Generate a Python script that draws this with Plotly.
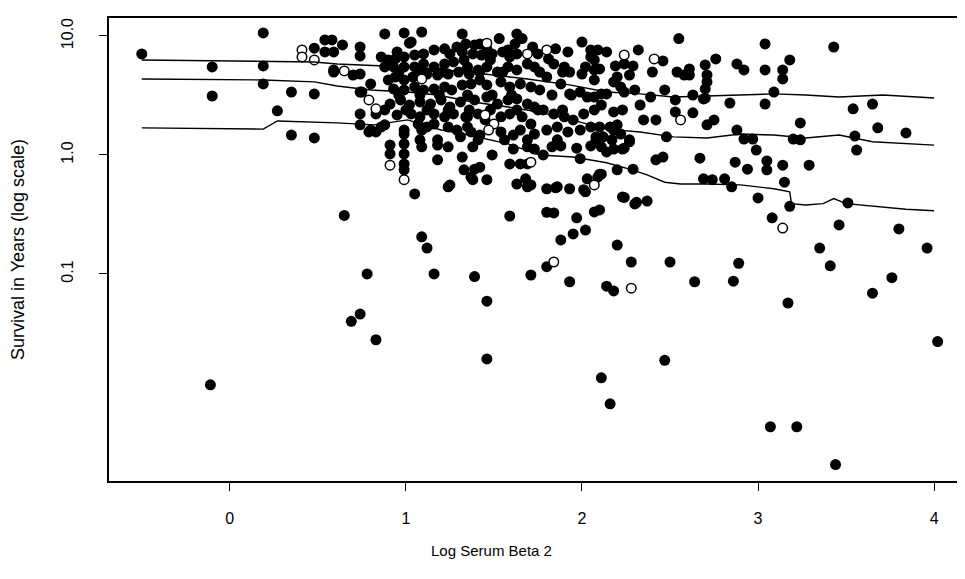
import plotly.graph_objects as go

# Log serum beta 2 (x) and survival in years (y), filled = died, open = censored
dead_x = [
    -0.50, -0.10, -0.10, 0.19, 0.19, 0.19, 0.35, 0.48, 0.27, 0.35, 0.48, 0.48, 0.54, 0.54, 0.59,
    0.58, 0.64, 0.59, 0.59, 0.74, 0.74, 0.74, 0.74, 0.74, 0.83, 0.79, 0.83, 0.88,
    0.88, 0.99, 1.09, 1.03, 1.32,
    0.91, 0.91, 0.99, 0.99, 0.99, 0.99, 0.99,
    1.05, 1.09, 1.09, 1.16, 1.18, 1.24, 1.32, 1.33, 1.37, 1.42, 1.46, 1.49,
    1.18, 1.25, 1.38, 1.39,
    0.65, 1.09, 1.12,
    1.59, 1.59, 1.65, 1.69, 1.63, 1.69, 1.80, 1.86, 1.93, 2.03, 2.01, 2.10,
    1.80, 1.84, 1.97, 2.07, 2.10, 1.95, 2.02, 1.88, 2.20, 2.23, 2.30,
    2.00, 2.05, 2.07, 1.53, 1.63, 1.66,
    1.61, 1.73, 1.78, 1.88, 1.97, 2.05, 1.99,
    1.68, 1.71, 1.85, 2.02, 2.09, 1.80,
    1.16, 0.78, 0.74, 0.69, 0.83, -0.11, 1.39, 1.46, 1.46,
    3.35, 3.96, 1.71, 1.93, 2.14, 2.18, 2.28, 2.50, 2.64, 2.86, 2.89, 3.41, 3.17, 3.65, 3.76, 4.02,
    2.47, 2.11, 2.16, 3.07, 3.22, 3.44,
    2.55, 3.04, 3.43, 2.32, 2.46,
    2.19, 2.24, 2.29, 2.27, 2.40, 2.54, 2.58, 2.61, 2.61, 2.70, 2.71, 2.71, 2.70, 2.76, 2.88,
    2.92, 3.04, 3.14, 3.14, 3.18, 3.09,
    2.18, 2.22, 2.24, 2.30, 2.39, 2.47, 2.53, 2.63, 2.70, 2.33, 2.84, 3.04,
    2.18, 2.23, 2.35, 2.42, 2.53, 2.63, 2.71, 2.75,
    3.54, 3.65, 3.24, 3.68, 3.84,
    2.18, 2.17, 2.18, 2.23, 2.27, 2.48,
    2.88, 2.92, 2.97, 2.99, 3.20, 3.24, 3.55, 3.56,
    2.42, 2.46, 2.67, 2.87, 2.94, 3.05, 3.05, 3.14, 3.29,
    2.20, 2.29, 2.69, 2.74, 2.81, 2.85, 3.15,
    2.24, 2.31, 2.37, 3.00, 3.18, 3.51,
    3.08, 3.46, 3.80,
    2.09, 2.10, 2.11, 2.14, 2.11, 2.20, 2.69, 2.10, 2.16, 2.20, 2.22, 2.27, 2.08, 2.12,
    2.14, 2.24, 2.11,
    1.02, 0.70, 0.74,
    0.86, 0.90, 0.94, 0.99, 1.05, 1.10, 1.16, 1.22, 1.25, 1.29, 1.34,
    0.88, 0.93, 0.99, 1.05, 1.10, 1.16, 1.22, 1.27, 1.33,
    0.90, 0.94, 0.99, 1.04, 1.12, 1.18, 1.24, 1.30, 1.36,
    0.80, 0.75,
    0.93, 0.99, 1.05, 1.10, 1.16, 1.22, 1.26, 1.32,
    0.91, 0.97, 1.02, 1.08, 1.14, 1.20, 1.25, 1.31,
    0.95, 1.03, 1.08, 1.16, 1.22, 1.27, 1.34,
    0.80, 0.86, 0.99, 1.07, 1.12, 1.24, 1.29, 1.35,
    1.08, 1.31,
    1.62, 1.39, 1.42, 1.46, 1.38, 1.43, 1.49, 1.48, 1.58, 1.59, 1.63, 1.72, 1.75, 1.85, 2.05,
    1.35, 1.41, 1.46, 1.52, 1.58, 1.63, 1.69, 1.73, 1.81, 1.84, 1.90, 1.93, 2.02, 2.00, 2.07, 2.07,
    1.37, 1.42, 1.46, 1.54, 1.59, 1.65, 1.71, 1.76, 1.80, 1.88, 1.93, 1.99, 2.03, 2.07,
    1.39, 1.46, 1.52, 1.58, 1.63, 1.69, 1.73, 1.78, 1.84, 1.90, 1.95, 2.01, 2.07,
    1.35, 1.41, 1.45, 1.54, 1.59, 1.66, 1.71,
    1.37, 1.42, 1.54, 1.61, 1.65, 1.73, 1.80, 1.86, 1.92, 1.99, 2.05,
    0.96, 1.08, 1.21, 1.42, 1.55, 1.76, 1.89,
    0.96, 1.08, 1.19, 1.35, 1.49, 1.60, 1.83, 1.94,
    0.88, 1.00, 1.12, 1.24, 1.36, 1.48, 1.63, 1.75, 1.89,
    1.18, 1.41, 1.56, 1.69, 1.86, 2.08,
    0.95, 1.32, 1.55, 1.92, 2.14,
    1.24, 1.38, 1.69, 1.83, 2.11,
]
dead_y = [
    7.06, 5.49, 3.13, 10.6, 5.60, 3.95, 3.38, 3.26, 2.35, 1.47, 1.39, 7.90, 9.26, 7.34, 4.98,
    9.26, 8.40, 7.34, 5.18, 8.08, 6.80, 3.38, 2.21, 1.79, 2.21, 1.56, 1.56, 1.79,
    10.4, 10.6, 10.8, 8.90, 10.4,
    1.21, 1.02, 1.50, 1.24, 1.02, 0.84, 0.75,
    0.47, 1.17, 1.62, 1.82, 0.91, 0.54, 0.96, 0.75, 0.65, 0.79, 0.62, 1.00,
    1.21, 0.56, 0.62, 0.76,
    0.31, 0.205, 0.165,
    0.307, 0.84, 0.84, 0.84, 0.57, 0.54, 0.52, 0.54, 0.52, 0.63, 0.51, 0.69,
    0.33, 0.326, 0.296, 0.332, 0.345, 0.217, 0.234, 0.193, 0.175, 0.444, 0.388,
    8.90, 7.63, 6.29, 9.50, 10.4, 9.50,
    1.12, 1.12, 1.00, 1.19, 1.14, 1.19, 0.93,
    0.63, 0.56, 0.53, 0.49, 0.65, 0.115,
    0.100, 0.100, 0.046, 0.040, 0.028, 0.0117, 0.095, 0.059, 0.0193,
    0.165, 0.165, 0.098, 0.086, 0.079, 0.072, 0.126, 0.126, 0.086, 0.087, 0.123, 0.117, 0.057, 0.069, 0.093, 0.027,
    0.0188, 0.0134, 0.0081, 0.0052, 0.0052, 0.0025,
    9.50, 8.57, 8.08, 7.63, 6.17,
    5.60, 5.82, 5.60, 4.70, 4.98, 4.98, 4.70, 5.28, 4.70, 5.71, 4.70, 4.11, 3.59, 6.41, 5.82,
    5.18, 5.18, 5.18, 4.35, 6.29, 3.38,
    4.11, 3.73, 3.38, 3.52, 3.07, 3.52, 2.90, 3.19, 3.00, 2.63, 2.73, 2.68,
    2.30, 2.39, 1.97, 1.97, 2.30, 2.26, 1.79, 1.97,
    2.44, 2.68, 1.86, 1.69, 1.53,
    1.62, 1.34, 1.12, 1.12, 1.29, 1.42,
    1.62, 1.36, 1.36, 1.10, 1.36, 1.34, 1.44, 1.10,
    0.91, 0.96, 0.94, 0.87, 0.76, 0.89, 0.75, 0.82, 0.82,
    0.75, 0.76, 0.63, 0.62, 0.63, 0.54, 0.59,
    0.44, 0.40, 0.41, 0.435, 0.37, 0.395,
    0.296, 0.258, 0.239,
    7.63, 5.28, 3.26, 3.26, 2.63, 4.52, 2.96, 1.72, 1.72, 1.79, 1.50, 1.34, 1.42, 1.42,
    1.06, 1.14, 0.69,
    8.70, 4.70, 4.79,
    6.66, 6.29, 6.41, 6.66, 6.92, 7.06, 7.63, 7.80, 7.06, 8.08, 8.57,
    5.49, 5.49, 5.49, 5.49, 5.82, 5.49, 5.82, 6.05, 6.29,
    4.27, 4.52, 4.27, 4.52, 4.79, 4.70, 4.79, 4.98, 4.79,
    3.95, 3.38,
    3.59, 3.52, 3.73, 3.52, 3.59, 3.73, 3.52, 3.88,
    2.68, 2.90, 2.63, 2.79, 2.68, 2.90, 2.53, 2.79,
    2.17, 2.21, 2.09, 2.21, 2.09, 2.21, 2.09,
    1.62, 1.72, 1.62, 1.82, 1.72, 1.72, 1.62, 1.72,
    1.34, 1.42,
    8.57, 8.40, 8.57, 7.80, 7.06, 6.92, 7.06, 6.29, 7.63, 6.66, 7.06, 8.08, 7.06, 7.80, 6.66,
    5.49, 5.18, 5.49, 4.98, 5.49, 5.18, 5.82, 5.49, 6.41, 5.82, 5.49, 4.98, 5.49, 4.79, 5.18, 4.27,
    3.95, 4.27, 3.88, 4.11, 3.73, 3.95, 3.73, 3.52, 4.52, 3.95, 3.26, 3.38, 3.07, 3.07,
    2.90, 3.07, 2.68, 2.90, 2.96, 2.68, 2.53, 2.39, 2.21, 2.09, 1.97, 2.21, 2.39,
    2.09, 2.21, 1.97, 2.09, 2.21, 2.09, 1.82,
    1.56, 1.47, 1.56, 1.47, 1.62, 1.50, 1.62, 1.72, 1.56, 1.62, 1.72,
    4.98, 4.98, 4.98, 4.98, 4.98, 4.98, 4.98,
    3.19, 3.19, 3.19, 3.19, 3.19, 3.19, 3.19, 3.19,
    2.39, 2.39, 2.39, 2.39, 2.39, 2.39, 2.39, 2.39, 2.39,
    1.34, 1.34, 1.34, 1.34, 1.34, 1.34,
    7.34, 7.34, 7.34, 7.34, 7.34,
    1.17, 1.17, 1.17, 1.17, 1.17,
]
cens_x = [0.41, 0.41, 0.48, 0.65, 0.79, 0.83, 0.91, 0.99, 1.09, 1.45, 1.50, 1.47, 1.71,
          1.80, 2.24, 2.41, 2.56, 2.07, 1.84, 2.28, 3.14, 1.46, 1.69]
cens_y = [7.63, 6.66, 6.29, 5.08, 2.90, 2.44, 0.82, 0.62, 4.35, 2.17, 1.82, 1.62, 0.87,
          7.63, 6.92, 6.41, 1.97, 0.56, 0.126, 0.076, 0.243, 8.70, 7.06]

# Three fitted quantile curves
upper_x = [-0.50, 0.19, 0.48, 0.61, 1.01, 1.35, 1.69, 1.93, 2.14, 2.33, 2.52, 2.71, 2.90, 3.09,
           3.27, 3.46, 3.71, 4.00]
upper_y = [6.29, 6.17, 6.05, 5.82, 5.49, 4.98, 4.35, 3.88, 3.38, 3.26, 3.07, 3.13, 3.19, 3.26,
           3.19, 3.07, 3.19, 3.01]
mid_x = [-0.50, 0.19, 0.48, 0.61, 0.80, 1.01, 1.18, 1.38, 1.58, 1.75, 1.92, 2.14, 2.33, 2.52,
         2.71, 2.90, 3.09, 3.27, 3.46, 3.65, 4.00]
mid_y = [4.35, 4.27, 4.11, 3.80, 3.52, 3.38, 3.19, 2.79, 2.53, 2.30, 2.01, 1.65, 1.56, 1.42,
         1.39, 1.50, 1.47, 1.39, 1.47, 1.29, 1.21]
low_x = [-0.50, 0.19, 0.27, 0.61, 0.82, 1.01, 1.20, 1.33, 1.58, 1.76, 1.95, 2.14, 2.27, 2.37,
         2.47, 2.56, 2.71, 2.90, 3.09, 3.18, 3.19, 3.27, 3.37, 3.43, 3.50, 3.65, 3.84, 4.00]
low_y = [1.69, 1.65, 1.93, 1.86, 1.79, 1.97, 1.62, 1.50, 1.24, 1.00, 0.96, 0.86, 0.76, 0.68,
         0.59, 0.57, 0.57, 0.56, 0.52, 0.49, 0.39, 0.38, 0.39, 0.43, 0.39, 0.37, 0.35, 0.34]

x_ticks = [0, 1, 2, 3, 4]
y_ticks = [0.1, 1.0, 10.0]
y_tick_text = ['0.1', '1.0', '10.0']

fig = go.Figure()

fig.add_trace(go.Scatter(x=dead_x, y=dead_y, mode='markers',
                         marker=dict(color='black', size=11, line=dict(width=0))))
fig.add_trace(go.Scatter(x=cens_x, y=cens_y, mode='markers',
                         marker=dict(color='white', size=9.5, line=dict(color='black', width=1.5))))
for lx, ly in [(upper_x, upper_y), (mid_x, mid_y), (low_x, low_y)]:
    fig.add_trace(go.Scatter(x=lx, y=ly, mode='lines', line=dict(color='black', width=1.4)))

axis_font = dict(family='Liberation Sans, Arial, sans-serif', color='black')

# the x title sits left of the plot centre in the original
fig.add_annotation(text='Log Serum Beta 2', xref='paper', yref='paper', x=0.446, y=-0.151,
                   xanchor='center', yanchor='middle', showarrow=False,
                   font=dict(size=15, **axis_font))

fig.update_layout(
    width=965, height=579,
    margin=dict(l=101, r=5, t=10, b=106),
    plot_bgcolor='white', paper_bgcolor='white',
    showlegend=False,
    font=dict(family='Liberation Sans, Arial, sans-serif', color='black', size=15),
    xaxis=dict(
        range=[-0.686, 4.181], tickvals=x_ticks, ticks='outside', ticklen=8, tickwidth=1,
        tickcolor='black', showline=True, linecolor='black', linewidth=1.5, mirror=True,
        showgrid=False, zeroline=False, ticklabelstandoff=14,
        tickfont=dict(size=16, **axis_font),
    ),
    yaxis=dict(
        type='log', range=[-2.74, 1.151], tickvals=y_ticks, ticktext=y_tick_text,
        ticks='outside', ticklen=8, tickwidth=1, tickcolor='black', tickangle=-90,
        showline=True, linecolor='black', linewidth=1.5, mirror=True,
        showgrid=False, zeroline=False, ticklabelstandoff=20,
        tickfont=dict(size=16, **axis_font),
        title=dict(text='Survival in Years (log scale)', font=dict(size=18, **axis_font), standoff=30),
    ),
)

fig.write_html("out.html")
